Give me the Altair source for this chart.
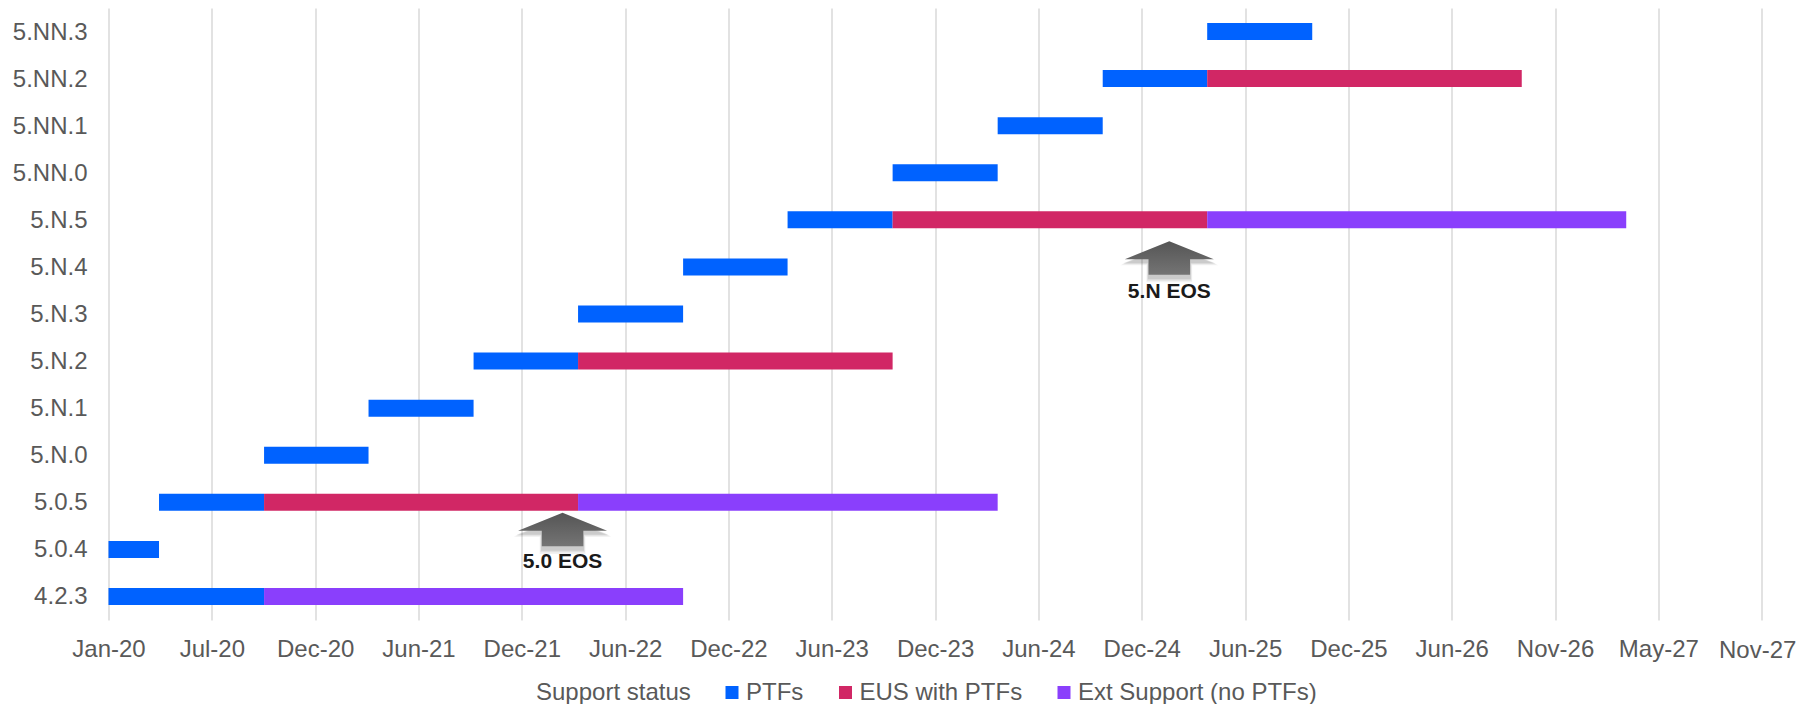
import altair as alt
import pandas as pd

releases = ["5.NN.3", "5.NN.2", "5.NN.1", "5.NN.0", "5.N.5", "5.N.4", "5.N.3", "5.N.2",
            "5.N.1", "5.N.0", "5.0.5", "5.0.4", "4.2.3"]
statuses = ["PTFs", "EUS with PTFs", "Ext Support (no PTFs)"]
colors = ["#0062ff", "#d12765", "#8a3ffc"]

bar_release = ["4.2.3", "4.2.3", "5.0.4", "5.0.5", "5.0.5", "5.0.5", "5.N.0", "5.N.1",
               "5.N.2", "5.N.2", "5.N.3", "5.N.4", "5.N.5", "5.N.5", "5.N.5",
               "5.NN.0", "5.NN.1", "5.NN.2", "5.NN.2", "5.NN.3"]
bar_start = ["2020-01-04", "2020-10-01", "2020-01-04", "2020-04-01", "2020-10-01", "2022-04-01",
             "2020-10-01", "2021-04-01", "2021-10-01", "2022-04-01", "2022-04-01", "2022-10-01",
             "2023-04-01", "2023-10-01", "2025-04-01", "2023-10-01", "2024-04-01", "2024-10-01",
             "2025-04-01", "2025-04-01"]
bar_end = ["2020-10-01", "2022-10-01", "2020-04-01", "2020-10-01", "2022-04-01", "2024-04-01",
           "2021-04-01", "2021-10-01", "2022-04-01", "2023-10-01", "2022-10-01", "2023-04-01",
           "2023-10-01", "2025-04-01", "2027-04-01", "2024-04-01", "2024-10-01", "2025-04-01",
           "2026-10-01", "2025-10-01"]
bar_status = ["PTFs", "Ext Support (no PTFs)", "PTFs", "PTFs", "EUS with PTFs", "Ext Support (no PTFs)",
              "PTFs", "PTFs", "PTFs", "EUS with PTFs", "PTFs", "PTFs", "PTFs", "EUS with PTFs",
              "Ext Support (no PTFs)", "PTFs", "PTFs", "PTFs", "EUS with PTFs", "PTFs"]

tick_dates = ["2020-01-04", "2020-07-02", "2020-12-29", "2021-06-27", "2021-12-24", "2022-06-22",
              "2022-12-19", "2023-06-17", "2023-12-14", "2024-06-11", "2024-12-08", "2025-06-06",
              "2025-12-03", "2026-06-01", "2026-11-28", "2027-05-27", "2027-11-23"]

notes = [
    {"release": "5.0.5", "date": "2022-03-05", "label": "5.0 EOS", "arrow_dy": 27.2, "text_dy": 59.7},
    {"release": "5.N.5", "date": "2025-01-25", "label": "5.N EOS", "arrow_dy": 38.1, "text_dy": 71.9},
]

ARROW = ("M0,-0.376 L1,0.028 L0.467,0.028 L0.467,0.376 L-0.467,0.376 "
         "L-0.467,0.028 L-1,0.028 Z")
FONT = "Liberation Sans"
GREY = "#595959"


def ms(s):
    return int(pd.Timestamp(s, tz="UTC").value // 1_000_000)


bars = pd.DataFrame({"release": bar_release, "start": bar_start, "end": bar_end, "status": bar_status})
x_scale = alt.Scale(type="utc", domain=[ms(tick_dates[0]), ms(tick_dates[-1])], nice=False)
y_scale = alt.Scale(domain=releases, paddingInner=0, paddingOuter=0)
last_ms = ms(tick_dates[-1])

x_axis = alt.Axis(
    values=[ms(d) for d in tick_dates],
    labelExpr=f"datum.value >= {last_ms} ? '' : utcFormat(datum.value, '%b-%y')",
    grid=True, gridColor="#d9d9d9", gridWidth=1.5, domain=False, ticks=False,
    labelFontSize=24, labelFont=FONT, labelColor=GREY, labelPadding=17,
    labelOverlap=False, labelFlush=False, labelBound=False, title=None)
y_axis = alt.Axis(
    grid=False, domain=False, ticks=False, labelFontSize=24, labelFont=FONT,
    labelColor=GREY, labelPadding=21.5, labelOffset=1, title=None)

bar_layer = alt.Chart(bars).mark_bar(height=17, cornerRadius=0).encode(
    x=alt.X("start:T", scale=x_scale, axis=x_axis),
    x2="end:T",
    y=alt.Y("release:N", scale=y_scale, sort=releases, axis=y_axis),
    color=alt.Color("status:N", scale=alt.Scale(domain=statuses, range=colors), legend=alt.Legend(
        title="Support status", orient="none", legendX=427.5, legendY=672.5, direction="horizontal",
        titleOrient="left", titleFontSize=24, titleFont=FONT, titleFontWeight="normal",
        titleColor=GREY, titlePadding=29, labelFontSize=24, labelFont=FONT, labelColor=GREY,
        labelOffset=2, labelLimit=400, symbolType="square", symbolSize=169, symbolStrokeWidth=0,
        columnPadding=29.5)),
)

layers = [bar_layer]
gradient = alt.LinearGradient(
    gradient="linear", x1=0, x2=0, y1=0, y2=1,
    stops=[alt.GradientStop(color="#555555", offset=0), alt.GradientStop(color="#747474", offset=1)])

for n in notes:
    d = pd.DataFrame([n])
    base = alt.Chart(d).encode(
        x=alt.X("date:T", scale=x_scale, axis=x_axis),
        y=alt.Y("release:N", scale=y_scale, sort=releases, axis=y_axis))
    for extra, shift, op in [(9, 6, 0.05), (6, 5, 0.07), (3, 4, 0.09)]:
        layers.append(base.mark_point(
            shape=ARROW, size=(89 + extra) ** 2, filled=True, fill="#000000", opacity=op,
            strokeWidth=0, yOffset=n["arrow_dy"] + shift))
    layers.append(base.mark_point(
        shape=ARROW, size=89 ** 2, filled=True, fill=gradient, opacity=1,
        strokeWidth=0, yOffset=n["arrow_dy"]))
    layers.append(base.mark_text(
        font=FONT, fontSize=21, fontWeight="bold", color="#1a1a1a", align="center",
        baseline="middle", yOffset=n["text_dy"]).encode(text="label:N"))

last_label = alt.Chart(pd.DataFrame({"date": [tick_dates[-1]], "label": ["Nov-27"]})).mark_text(
    font=FONT, fontSize=24, color=GREY, align="center", baseline="middle", xOffset=-4, clip=False
).encode(x=alt.X("date:T", scale=x_scale, axis=x_axis), y=alt.value(643), text="label:N")
layers.append(last_label)

chart = alt.layer(*layers).properties(
    width=1653.2, height=612,
    padding={"left": 100.5, "top": 0, "right": 34.3, "bottom": 84},
    autosize=alt.AutoSizeParams(type="none"),
    background="white",
).configure_view(strokeWidth=0)

chart.save("out.html", embed_options={"renderer": "svg", "actions": False})
